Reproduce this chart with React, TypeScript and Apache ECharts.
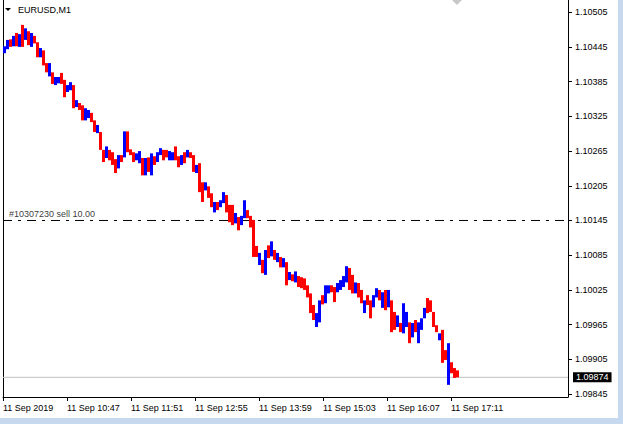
import React, { useEffect, useRef } from "react";
import * as echarts from "echarts";

const symbolTitle = "EURUSD,M1";
const orderLabel = "#10307230 sell 10.00";
const orderPrice = 1.10145;
const currentPrice = 1.09874;
const barMinutes = 3;

const xTickValues = [0, 64, 128, 192, 256, 320, 384, 448];
const xTickLabels = [
  "11 Sep 2019",
  "11 Sep 10:47",
  "11 Sep 11:51",
  "11 Sep 12:55",
  "11 Sep 13:59",
  "11 Sep 15:03",
  "11 Sep 16:07",
  "11 Sep 17:11",
];
const yTickValues = [
  1.09845, 1.09905, 1.09965, 1.10025, 1.10085, 1.10145, 1.10205, 1.10265, 1.10325,
  1.10385, 1.10445, 1.10505,
];

const opens = [
  1.10434, 1.10441, 1.10458, 1.10446, 1.10469, 1.10445, 1.10483, 1.10457, 1.10472, 1.10445,
  1.10464, 1.10453, 1.10427, 1.10439, 1.10417, 1.10394, 1.10401, 1.10379, 1.10382, 1.104,
  1.10388, 1.10367, 1.1037, 1.10379, 1.10341, 1.10348, 1.10344, 1.10318, 1.10322, 1.10331,
  1.10318, 1.10296, 1.10298, 1.10267, 1.10253, 1.10267, 1.10263, 1.10251, 1.10235, 1.10258,
  1.10254, 1.10299, 1.10268, 1.10263, 1.10249, 1.10244, 1.10253, 1.10223, 1.10254, 1.10223,
  1.10256, 1.10246, 1.10258, 1.10267, 1.10267, 1.10249, 1.10249, 1.10273, 1.10256, 1.10241,
  1.10263, 1.10254, 1.10263, 1.10258, 1.10227, 1.10244, 1.10211, 1.10197, 1.10204, 1.10192,
  1.10159, 1.10177, 1.10168, 1.10175, 1.10189, 1.10172, 1.10172, 1.1014, 1.10151, 1.10137,
  1.10149, 1.10163, 1.10153, 1.10146, 1.10101, 1.10068, 1.10077, 1.10051, 1.10102, 1.10083,
  1.10094, 1.10073, 1.10082, 1.10064, 1.10073, 1.10042, 1.10052, 1.10038, 1.10049, 1.10047,
  1.10045, 1.10033, 1.10019, 1.09999, 1.09961, 1.09969, 1.10016, 1.10002, 1.10019, 1.10033,
  1.1003, 1.10021, 1.10025, 1.1003, 1.10038, 1.10063, 1.10051, 1.10019, 1.10037, 1.10025,
  1.09985, 1.10016, 1.10007, 1.09995, 1.10012, 1.10025, 1.09994, 1.10025, 1.09995, 1.10007,
  1.09987, 1.09961, 1.09968, 1.0995, 1.09961, 1.09969, 1.09943, 1.09973, 1.09933, 1.09956,
  1.09976, 1.10011, 1.10007, 1.09987, 1.09964, 1.09938, 1.09956, 1.09921, 1.09861, 1.099,
  1.0989, 1.09886,
];

const closes = [
  1.10446, 1.10457, 1.10445, 1.10464, 1.10446, 1.10467, 1.10445, 1.10477, 1.10448, 1.10469,
  1.10451, 1.10427, 1.10443, 1.10413, 1.10401, 1.10417, 1.10381, 1.10393, 1.10393, 1.10381,
  1.10358, 1.10379, 1.10384, 1.10339, 1.10353, 1.10336, 1.10318, 1.10339, 1.10336, 1.10315,
  1.10298, 1.1031, 1.10267, 1.10246, 1.10273, 1.10249, 1.10241, 1.10227, 1.10258, 1.10246,
  1.10299, 1.10263, 1.10258, 1.10246, 1.10261, 1.10265, 1.10223, 1.10253, 1.10229, 1.10261,
  1.10241, 1.10263, 1.1027, 1.10249, 1.10254, 1.10265, 1.10263, 1.10249, 1.10237, 1.10258,
  1.10244, 1.10267, 1.10253, 1.10229, 1.10241, 1.10194, 1.10177, 1.10211, 1.10184, 1.10168,
  1.10177, 1.10163, 1.1018, 1.10194, 1.10159, 1.10142, 1.10137, 1.10158, 1.10128, 1.10153,
  1.1018, 1.10149, 1.10133, 1.10082, 1.10082, 1.10089, 1.10054, 1.10094, 1.1008, 1.10109,
  1.10077, 1.10089, 1.10064, 1.1008, 1.10033, 1.10056, 1.1004, 1.10057, 1.1003, 1.10028,
  1.10025, 1.10012, 1.09985, 1.09973, 1.09985, 1.10007, 1.1, 1.10033, 1.10033, 1.10021,
  1.10004, 1.10037, 1.10042, 1.10049, 1.10066, 1.10025, 1.10019, 1.10038, 1.10012, 1.10002,
  1.10007, 1.09999, 1.09976, 1.10016, 1.10028, 1.10007, 1.10021, 1.0999, 1.10025, 1.09952,
  1.09956, 1.09981, 1.09952, 1.10002, 1.09987, 1.09933, 1.09968, 1.09952, 1.09969, 1.09976,
  1.09994, 1.09985, 1.09987, 1.09961, 1.09952, 1.0995, 1.09899, 1.09904, 1.09933, 1.09881,
  1.09873, 1.09874,
];

const FONT = "'Liberation Sans', Arial, sans-serif";
const UP = "#0000ff";
const DOWN = "#ff0000";

export default function App() {
  const ref = useRef<HTMLDivElement>(null);

  useEffect(() => {
    if (!ref.current) return;
    const chart = echarts.init(ref.current, undefined, { renderer: "svg" });

    const bars = opens.map((o, i) => {
      const c = closes[i];
      return [i * barMinutes, o, c, Math.min(o, c), Math.max(o, c)];
    });

    const xMin = 0;
    const xMax = 565;
    const yMin = 1.0984;
    const yMax = 1.10526;

    const option: any = {
      animation: false,
      backgroundColor: "#ffffff",
      grid: {
        left: 3,
        right: 55,
        top: 0,
        bottom: 27,
        containLabel: false,
        outerBoundsMode: "none",
      },
      xAxis: {
        type: "value",
        min: xMin,
        max: xMax,
        interval: 64,
        position: "bottom",
        axisLine: { show: true, onZero: false, lineStyle: { color: "#000", width: 1 } },
        axisTick: {
          show: true,
          length: 4,
          customValues: xTickValues,
          lineStyle: { color: "#000" },
        },
        axisLabel: {
          customValues: xTickValues,
          formatter: (v: number) => {
            const idx = xTickValues.indexOf(Math.round(v));
            return idx >= 0 ? xTickLabels[idx] : "";
          },
          align: "left",
          margin: 6,
          color: "#000",
          fontSize: 9,
          fontFamily: FONT,
        },
        splitLine: { show: false },
      },
      yAxis: [
        {
          type: "value",
          position: "right",
          min: yMin,
          max: yMax,
          axisLine: { show: true, onZero: false, lineStyle: { color: "#000", width: 1 } },
          axisTick: {
            show: true,
            length: 4,
            customValues: yTickValues,
            lineStyle: { color: "#000" },
          },
          axisLabel: {
            customValues: yTickValues,
            formatter: (v: number) => v.toFixed(5),
            margin: 7,
            color: "#000",
            fontSize: 9,
            fontFamily: FONT,
          },
          splitLine: { show: false },
        },
        {
          type: "value",
          position: "left",
          min: yMin,
          max: yMax,
          axisLine: { show: true, onZero: false, lineStyle: { color: "#000", width: 1 } },
          axisTick: { show: false },
          axisLabel: { show: false },
          splitLine: { show: false },
        },
      ],
      series: [
        {
          type: "line",
          xAxisIndex: 0,
          yAxisIndex: 0,
          data: [
            [xMin, currentPrice],
            [xMax, currentPrice],
          ],
          symbol: "none",
          silent: true,
          lineStyle: { color: "#c0c0c0", type: "solid", width: 1 },
          endLabel: {
            show: true,
            formatter: currentPrice.toFixed(5),
            color: "#fff",
            backgroundColor: "#000",
            padding: [1, 3, 0, 3],
            fontSize: 9,
            fontFamily: FONT,
            distance: 5,
          },
          z: 1,
        },
        {
          type: "line",
          xAxisIndex: 0,
          yAxisIndex: 0,
          data: [
            [xMin, orderPrice],
            [xMax, orderPrice],
          ],
          symbol: "none",
          silent: true,
          lineStyle: { color: "#000", type: [9, 6, 3, 6], width: 1 },
          z: 1,
        },
        {
          type: "scatter",
          xAxisIndex: 0,
          yAxisIndex: 0,
          data: [[xMin, orderPrice]],
          symbolSize: 0,
          silent: true,
          label: {
            show: true,
            position: [6, -11],
            formatter: orderLabel,
            color: "#000",
            fontSize: 9,
            fontFamily: FONT,
            align: "left",
          },
          z: 3,
        },
        {
          type: "custom",
          xAxisIndex: 0,
          yAxisIndex: 0,
          data: bars,
          encode: { x: 0, y: [1, 2, 3, 4] },
          renderItem: (params: any, api: any) => {
            const t = api.value(0);
            const o = api.value(1);
            const c = api.value(2);
            const l = api.value(3);
            const h = api.value(4);
            const p1 = api.coord([t, h]);
            const p2 = api.coord([t + barMinutes, l]);
            return {
              type: "rect",
              shape: {
                x: p1[0],
                y: p1[1],
                width: p2[0] - p1[0],
                height: Math.max(1, p2[1] - p1[1]),
              },
              style: { fill: c >= o ? UP : DOWN },
            };
          },
          z: 2,
        },
      ],
      graphic: [
        {
          type: "polygon",
          shape: { points: [[5, 8], [11, 8], [8, 11]] },
          style: { fill: "#000" },
        },
        {
          type: "text",
          left: 18,
          top: 5,
          style: { text: symbolTitle, fill: "#000", font: `9px ${FONT}` },
        },
        {
          type: "polygon",
          shape: { points: [[452, 0], [462, 0], [457, 5]] },
          style: { fill: "#c8c8c8" },
        },
        {
          type: "rect",
          shape: { x: 618, y: 0, width: 5, height: 424 },
          style: { fill: "#c6d9ee" },
        },
        {
          type: "rect",
          shape: { x: 0, y: 418, width: 623, height: 6 },
          style: { fill: "#c6d9ee" },
        },
      ],
    };

    chart.setOption(option);
    return () => chart.dispose();
  }, []);

  return (
    <div
      ref={ref}
      style={{ position: "absolute", left: 0, top: 0, width: 623, height: 424, background: "#fff" }}
    />
  );
}
